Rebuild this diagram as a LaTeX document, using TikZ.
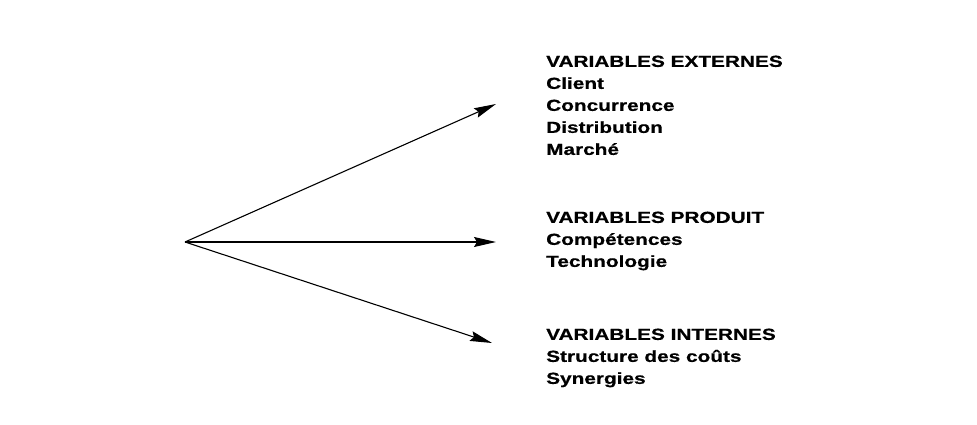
\documentclass[tikz,border=0pt]{standalone}
\usepackage{fontspec}
\setmainfont{Liberation Sans}[FakeStretch=1.3,BoldFeatures={FakeBold=0.6}]
\usetikzlibrary{arrows.meta}

\begin{document}
\begin{tikzpicture}[x=1pt,y=-1pt,
    varlist/.style={anchor=north west,inner sep=0pt,align=left,
      font=\bfseries\fontsize{16}{22}\selectfont},
    fleche/.style={line width=1.1pt,-{Stealth[length=22pt,width=10pt,inset=3pt]}}]
    \useasboundingbox (0,0) rectangle (977,425);

    \coordinate (origine) at (185,242);
    \coordinate (versext) at (496,104);
    \coordinate (versprod) at (496,242);
    \coordinate (versint) at (492,343);

    \node[varlist] (externes) at (546,55.5)
    {VARIABLES EXTERNES\\Client\\Concurrence\\Distribution\\Marché};
    \node[varlist] (produit) at (546,211.5)
    {VARIABLES PRODUIT\\Compétences\\Technologie};
    \node[varlist] (internes) at (546,328.5)
    {VARIABLES INTERNES\\Structure des coûts\\Synergies};

    \draw[fleche] (origine) -- (versext);
    \draw[fleche] (origine) -- (versprod);
    \draw[fleche] (origine) -- (versint);
  \end{tikzpicture}
\end{document}
